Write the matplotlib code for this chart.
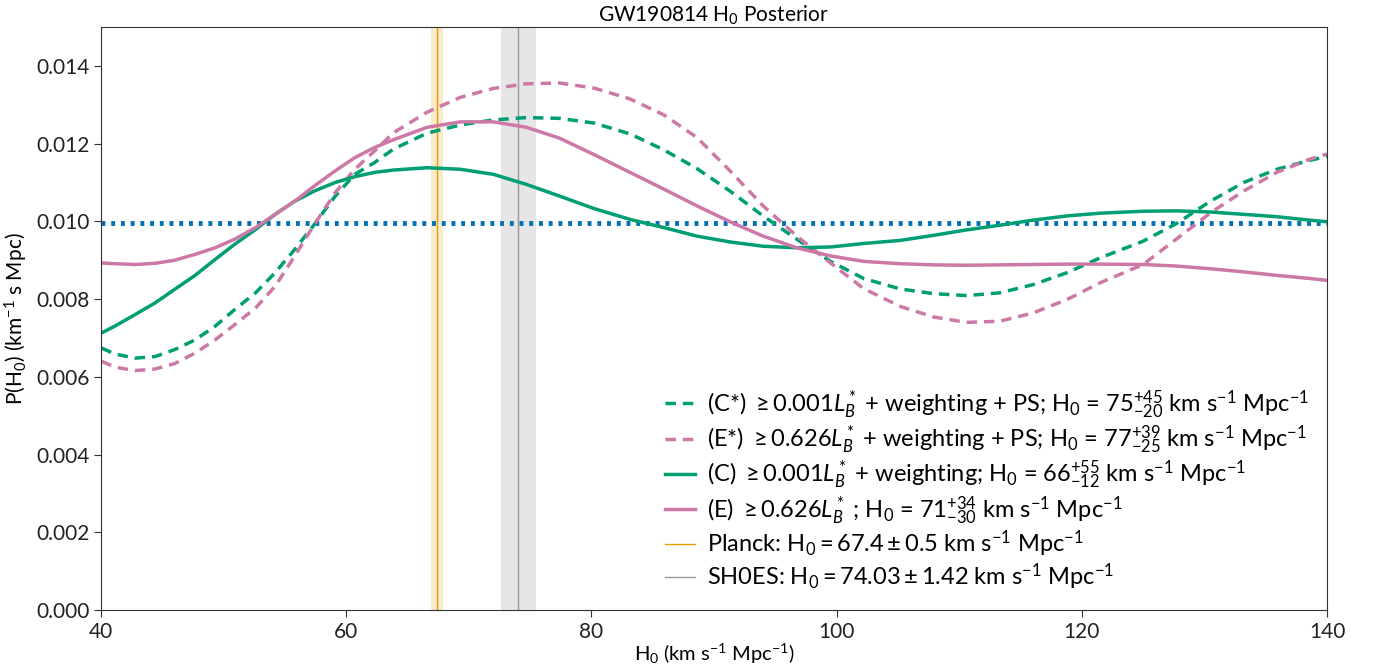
"""
plot.py - GW190814 H0 posterior comparison (catalog cuts, weighting, PS).
"""

import matplotlib
matplotlib.use("Agg")
import matplotlib.pyplot as plt
from matplotlib.ticker import FormatStrFormatter

# ---- data ------------------------------------------------------------------
h0 = [40.05, 41.1, 42.77, 44.4, 46.0, 47.67, 49.3, 50.9, 52.6, 54.2, 55.8,
      57.4, 59.1, 60.7, 62.3,
      63.85, 66.6, 69.3, 72.0, 74.7, 77.4, 80.2,
      83.15, 85.9, 88.6, 91.3, 94.0, 96.75, 99.5, 102.2,
      105.2, 107.9, 110.6, 113.3, 116.0, 118.8, 121.5,
      125.0, 127.7, 130.5, 133.2, 135.9, 138.6, 140.0]

# (C) >= 0.001 L_B* + weighting
p_c = [0.00713, 0.00730, 0.00760, 0.00790, 0.00825, 0.00861, 0.00902, 0.00941,
       0.00979, 0.01018, 0.01052, 0.01078, 0.01100, 0.01115, 0.01126,
       0.01132, 0.01138, 0.01134, 0.01121, 0.01095, 0.01065, 0.01033,
       0.01005, 0.00984, 0.00962, 0.00947, 0.00936, 0.00932, 0.00934, 0.00943,
       0.00951, 0.00964, 0.00978, 0.00990, 0.01003, 0.01014, 0.01021,
       0.01026, 0.01027, 0.01024, 0.01018, 0.01012, 0.01003, 0.00999]

# (E) >= 0.626 L_B*
p_e = [0.00893, 0.00891, 0.00889, 0.00892, 0.00900, 0.00915, 0.00932, 0.00954,
       0.00984, 0.01018, 0.01052, 0.01091, 0.01130, 0.01164, 0.01190,
       0.01210, 0.01242, 0.01256, 0.01256, 0.01242, 0.01214, 0.01172,
       0.01126, 0.01083, 0.01040, 0.00999, 0.00962, 0.00932, 0.00911, 0.00897,
       0.00891, 0.00888, 0.00887, 0.00888, 0.00889, 0.00890, 0.00890,
       0.00889, 0.00885, 0.00878, 0.00870, 0.00861, 0.00853, 0.00848]

# (C*) >= 0.001 L_B* + weighting + PS
p_cs = [0.00674, 0.00659, 0.00648, 0.00652, 0.00670, 0.00695, 0.00730, 0.00773,
        0.00816, 0.00868, 0.00928, 0.00992, 0.01065, 0.01121, 0.01151,
        0.01186, 0.01227, 0.01248, 0.01261, 0.01267, 0.01265, 0.01253,
        0.01225, 0.01184, 0.01136, 0.01078, 0.01014, 0.00954, 0.00897, 0.00853,
        0.00826, 0.00814, 0.00809, 0.00816, 0.00837, 0.00868, 0.00906,
        0.00949, 0.00994, 0.01052, 0.01100, 0.01134, 0.01157, 0.01167]

# (E*) >= 0.626 L_B* + weighting + PS
p_es = [0.00640, 0.00625, 0.00616, 0.00620, 0.00634, 0.00661, 0.00695, 0.00734,
        0.00777, 0.00833, 0.00911, 0.00992, 0.01074, 0.01134, 0.01181,
        0.01228, 0.01281, 0.01319, 0.01342, 0.01354, 0.01356, 0.01343,
        0.01315, 0.01274, 0.01216, 0.01130, 0.01040, 0.00962, 0.00893, 0.00827,
        0.00781, 0.00754, 0.00740, 0.00743, 0.00764, 0.00799, 0.00842,
        0.00889, 0.00954, 0.01022, 0.01078, 0.01126, 0.01160, 0.01173]

prior_level = 0.00995

planck = (67.4, 0.5)
shoes = (74.03, 1.42)

labels = [
    r"(C*) $\geq 0.001 L_B^*$ + weighting + PS; H$_0$ = $75^{+45}_{-20}$ km s$^{-1}$ Mpc$^{-1}$",
    r"(E*) $\geq 0.626 L_B^*$ + weighting + PS; H$_0$ = $77^{+39}_{-25}$ km s$^{-1}$ Mpc$^{-1}$",
    r"(C) $\geq 0.001 L_B^*$ + weighting; H$_0$ = $66^{+55}_{-12}$ km s$^{-1}$ Mpc$^{-1}$",
    r"(E) $\geq 0.626 L_B^*$ ; H$_0$ = $71^{+34}_{-30}$ km s$^{-1}$ Mpc$^{-1}$",
    r"Planck: H$_0 = 67.4 \pm 0.5$ km s$^{-1}$ Mpc$^{-1}$",
    r"SH0ES: H$_0 = 74.03 \pm 1.42$ km s$^{-1}$ Mpc$^{-1}$",
]

GREEN = "#009E73"
PINK = "#CC79A7"
BLUE = "#0072B2"
ORANGE = "#E69F00"
GREY = "#999999"

plt.rcParams["font.family"] = ["Lato", "DejaVu Sans"]
plt.rcParams["mathtext.fontset"] = "custom"
plt.rcParams["mathtext.rm"] = "Lato"
plt.rcParams["mathtext.it"] = "Lato:italic"
plt.rcParams["mathtext.bf"] = "Lato:bold"

fig = plt.figure(figsize=(13.75, 6.69), dpi=100)
ax = fig.add_axes([0.0735, 0.0882, 0.8916, 0.8714])

# reference bands
ax.axvspan(planck[0] - planck[1], planck[0] + planck[1], color=ORANGE, alpha=0.2, lw=0)
ax.axvspan(shoes[0] - shoes[1], shoes[0] + shoes[1], color="#e6e6e6", lw=0)
l_planck = ax.axvline(planck[0], color=ORANGE, lw=1)
l_shoes = ax.axvline(shoes[0], color=GREY, lw=1)

# flat prior
ax.axhline(prior_level, color=BLUE, lw=3.5, ls=(0, (0.8, 1.2)))

l_cs, = ax.plot(h0, p_cs, color=GREEN, lw=2.5, ls=(0, (3, 2)))
l_es, = ax.plot(h0, p_es, color=PINK, lw=2.5, ls=(0, (3, 2)))
l_c, = ax.plot(h0, p_c, color=GREEN, lw=2.5)
l_e, = ax.plot(h0, p_e, color=PINK, lw=2.5)

ax.set_xlim(40, 140)
ax.set_ylim(0, 0.015)
ax.set_xticks([40, 60, 80, 100, 120, 140])
ax.set_yticks([0.000, 0.002, 0.004, 0.006, 0.008, 0.010, 0.012, 0.014])
ax.yaxis.set_major_formatter(FormatStrFormatter("%.3f"))
ax.tick_params(labelsize=15, length=5, color="#333333", labelcolor="#222222")
for s in ax.spines.values():
    s.set_color("#333333")

ax.set_xlabel(r"H$_0$ (km s$^{-1}$ Mpc$^{-1}$)", fontsize=14.5, labelpad=0)
ax.set_ylabel(r"P(H$_0$) (km$^{-1}$ s Mpc)", fontsize=15)
ax.set_title(r"GW190814 H$_0$ Posterior", fontsize=15, pad=4)

ax.legend([l_cs, l_es, l_c, l_e, l_planck, l_shoes], labels,
          loc="lower right", frameon=False, fontsize=17,
          handlelength=1.3, handletextpad=0.5, labelspacing=0.1,
          borderaxespad=0.35)

fig.savefig("out.png", dpi=100)
